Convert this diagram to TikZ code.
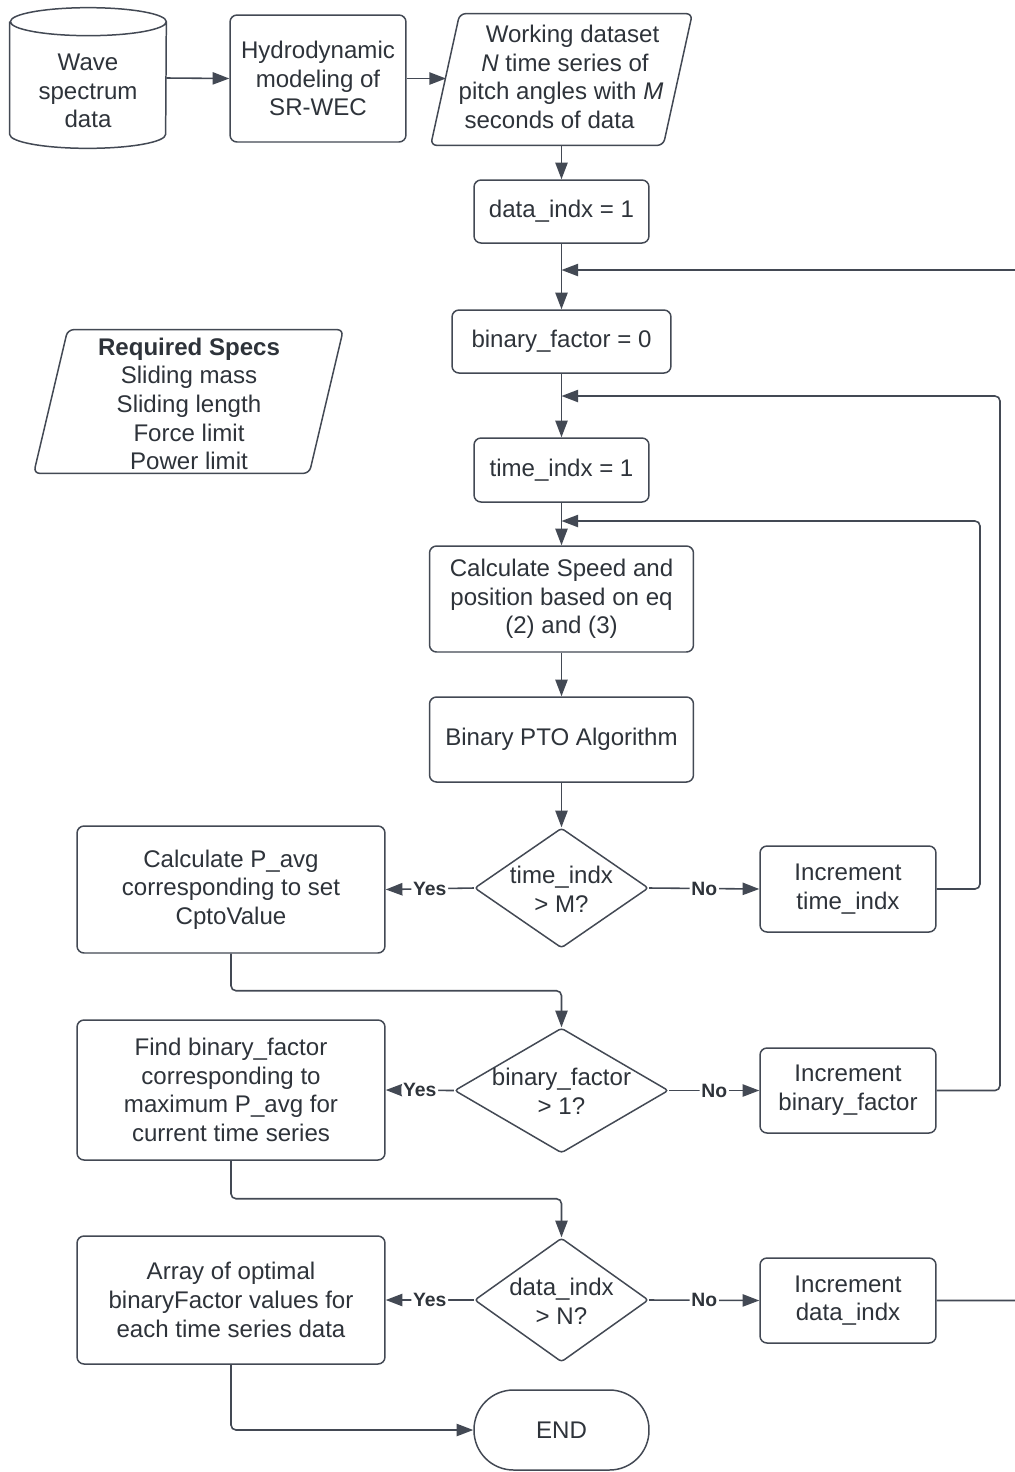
\documentclass[tikz,border=0pt]{standalone}
\usepackage{fontspec}
\setmainfont{Liberation Sans}
\usetikzlibrary{shapes.geometric,arrows.meta,calc}
\definecolor{ink}{HTML}{2E333A}
\definecolor{wire}{HTML}{434954}
\begin{document}
\begin{tikzpicture}[x=0.02cm,y=-0.02cm,
  every node/.style={text=ink, font=\fontsize{13.7}{16.3}\selectfont},
  base/.style={draw=wire, line width=0.85pt, fill=white},
  outline/.style={draw=wire, line width=0.85pt},
  procbox/.style={base, rectangle, rounded corners=0.14cm, align=center, inner sep=2pt},
  decision/.style={base, diamond, inner sep=0pt, rounded corners=0.06cm},
  frame/.style={rectangle, inner sep=0pt},
  terminal/.style={base, rectangle, rounded corners=0.79cm, minimum width=3.5cm, minimum height=1.6cm},
  plain/.style={align=center, inner sep=0pt},
  link/.style={draw=wire, line width=0.9pt, rounded corners=0.1cm, -{Triangle[length=9.5pt,width=7pt]}},
  tag/.style={fill=white, inner sep=1pt, font=\bfseries\fontsize{11}{13}\selectfont}
]
\clip (0,0) rectangle (1015,1472);
\fill[white] (0,0) rectangle (1015,1472);

% wave spectrum store (cylinder)
\node[frame, minimum width=3.12cm, minimum height=2.8cm] (wave) at (88,78) {};
\draw[outline]
  ([yshift=-0.28cm]wave.north west) -- ([yshift=0.28cm]wave.south west)
  arc[start angle=180, end angle=360, x radius=1.56cm, y radius=0.28cm]
  -- ([yshift=-0.28cm]wave.north east)
  arc[start angle=0, end angle=180, x radius=1.56cm, y radius=0.28cm]
  arc[start angle=180, end angle=360, x radius=1.56cm, y radius=0.28cm];
\node[plain] (waveT) at (88,91) {Wave\\spectrum\\data};

\node[procbox, minimum width=3.52cm, minimum height=2.54cm] (hydro) at (318,78.5) {Hydrodynamic\\modeling of\\SR-WEC};

% working dataset (parallelogram)
\node[frame, minimum width=5.22cm, minimum height=2.62cm] (work) at (561.5,79.5) {};
\draw[base, rounded corners=0.12cm] (work.south west) -- ($(work.north west)+(29,0)$)
  -- (work.north east) -- ($(work.south east)+(-29,0)$) -- cycle;
\node[plain] (workT) at (561,77) {\hspace*{0.46cm}Working dataset\\\hspace*{0.16cm}\textit{N} time series of\\pitch angles with \textit{M}\hspace*{0.16cm}\\seconds of data\hspace*{0.46cm}};
\coordinate (workin) at (446,78.5);

% required specs (parallelogram)
\node[frame, minimum width=6.18cm, minimum height=2.86cm] (specs) at (188.5,401.5) {};
\draw[base, rounded corners=0.12cm] (specs.south west) -- ($(specs.north west)+(34,0)$)
  -- (specs.north east) -- ($(specs.south east)+(-34,0)$) -- cycle;
\node[plain] (specsT) at (189,404) {\textbf{Required Specs}\\Sliding mass\\Sliding length\\Force limit\\Power limit};

% main column
\node[procbox, minimum width=3.5cm, minimum height=1.26cm] (dinit) at (561.5,211.5) {data\_indx = 1};
\node[procbox, minimum width=4.38cm, minimum height=1.26cm] (bf0) at (561.5,341.5) {binary\_factor = 0};
\node[procbox, minimum width=3.5cm, minimum height=1.28cm] (ti1) at (561.5,470) {time\_indx = 1};
\node[procbox, minimum width=5.28cm, minimum height=2.12cm] (calc) at (561.5,599) {Calculate Speed and\\position based on eq\\(2) and (3)};
\node[procbox, minimum width=5.28cm, minimum height=1.7cm] (pto) at (561.5,739.5) {Binary PTO Algorithm};

\node[decision, minimum width=3.48cm, minimum height=2.4cm] (d1) at (561.5,888) {};
\node[plain] (d1T) at (561.5,889) {time\_indx\\> M?};
\node[decision, minimum width=4.28cm, minimum height=2.5cm] (d2) at (561.5,1090.5) {};
\node[plain] (d2T) at (561.5,1091) {binary\_factor\\> 1?};
\node[decision, minimum width=3.48cm, minimum height=2.48cm] (d3) at (561.5,1300) {};
\node[plain] (d3T) at (561.5,1301) {data\_indx\\> N?};

\node[terminal] (end) at (561.5,1430) {END};

% left column
\node[procbox, minimum width=6.16cm, minimum height=2.54cm] (pavg) at (231,889.5) {Calculate P\_avg\\corresponding to set\\CptoValue};
\node[procbox, minimum width=6.16cm, minimum height=2.8cm] (findbf) at (231,1090) {Find binary\_factor\\corresponding to\\maximum P\_avg for\\current time series};
\node[procbox, minimum width=6.16cm, minimum height=2.56cm] (arr) at (231,1300) {Array of optimal\\binaryFactor values for\\each time series data};

% right column
\node[procbox, minimum width=3.52cm, minimum height=1.72cm] (inct) at (848,889) {Increment\\time\_indx};
\node[procbox, minimum width=3.52cm, minimum height=1.7cm] (incb) at (848,1090.5) {Increment\\binary\_factor};
\node[procbox, minimum width=3.52cm, minimum height=1.7cm] (incd) at (848,1300.5) {Increment\\data\_indx};

% loop merge points on the main column
\coordinate (j1) at (561.5,270);
\coordinate (j2) at (561.5,396);
\coordinate (j3) at (561.5,521);

% connectors
\draw[link] (wave.east) -- (hydro.west);
\draw[link] (hydro.east) -- (workin);
\draw[link] (work.south) -- (dinit.north);
\draw[link] (dinit.south) -- (bf0.north);
\draw[link] (bf0.south) -- (ti1.north);
\draw[link] (ti1.south) -- (calc.north);
\draw[link] (calc.south) -- (pto.north);
\draw[link] (pto.south) -- (d1.north);

\draw[link] (d1.west) -- node[tag]{Yes} (pavg.east);
\draw[link] (d1.east) -- node[tag]{No} (inct.west);
\draw[link] (d2.west) -- node[tag]{Yes} (findbf.east);
\draw[link] (d2.east) -- node[tag]{No} (incb.west);
\draw[link] (d3.west) -- node[tag]{Yes} (arr.east);
\draw[link] (d3.east) -- node[tag]{No} (incd.west);

\draw[link] (pavg.south) -- ++(0,37) -| (d2.north);
\draw[link] (findbf.south) -- ++(0,38) -| (d3.north);
\draw[link] (arr.south) |- (end.west);

\draw[link] (inct.east) -- (980,889) -- (980,521) -- (j3);
\draw[link] (incb.east) -- (1000,1090.5) -- (1000,396) -- (j2);
\draw[link] (incd.east) -- (1045,1300.5) -- (1045,270) -- (j1);
\end{tikzpicture}
\end{document}
